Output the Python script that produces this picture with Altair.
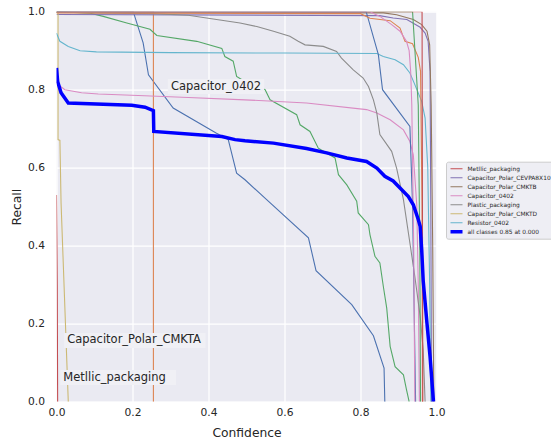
import altair as alt
import pandas as pd

# ---------------- data ----------------
# recall (y) versus confidence (x), one pair of lists per drawn curve
blue_a_x = [0.0, 0.202, 0.228, 0.242, 0.307, 0.42, 0.452, 0.474, 0.496, 0.553, 0.663, 0.683, 0.777, 0.834, 0.862, 0.864]
blue_a_y = [1.0, 1.0, 0.92, 0.838, 0.753, 0.689, 0.672, 0.586, 0.569, 0.518, 0.42, 0.336, 0.249, 0.169, 0.086, 0.0]

orange_a_x = [0.0, 0.255, 0.255]
orange_a_y = [1.0, 1.0, 0.0]

green_a_x = [0.0, 0.089, 0.123, 0.185, 0.246, 0.264, 0.369, 0.435, 0.443, 0.465, 0.474, 0.487, 0.549, 0.562,
             0.632, 0.641, 0.667, 0.689, 0.733, 0.742, 0.764, 0.79, 0.794, 0.821, 0.825, 0.838, 0.851, 0.86,
             0.869, 0.878, 0.891, 0.913, 0.921, 0.928]
green_a_y = [1.0, 0.996, 0.988, 0.971, 0.955, 0.939, 0.924, 0.906, 0.885, 0.873, 0.834, 0.826, 0.8, 0.774,
             0.736, 0.71, 0.693, 0.65, 0.625, 0.582, 0.556, 0.514, 0.484, 0.454, 0.428, 0.373, 0.356, 0.296,
             0.24, 0.142, 0.09, 0.069, 0.031, 0.0]

metllic_x = [0.0, 0.002, 0.003]
metllic_y = [0.53, 0.3, 0.0]

cevpa8x10_x = [0.0, 0.85, 0.886, 0.922, 0.957, 0.97, 0.978, 0.983, 0.985, 0.987]
cevpa8x10_y = [0.993, 0.99, 0.984, 0.98, 0.96, 0.945, 0.924, 0.847, 0.5, 0.0]

cmktb_x = [0.0, 0.86, 0.895, 0.939, 0.961, 0.975, 0.982, 0.986, 0.99, 0.993]
cmktb_y = [0.998, 0.997, 0.992, 0.98, 0.967, 0.95, 0.915, 0.76, 0.4, 0.0]

cap0402_x = [0.0, 0.005, 0.022, 0.066, 0.11, 0.215, 0.347, 0.496, 0.658, 0.816, 0.843, 0.878, 0.913, 0.93,
             0.939, 0.948, 0.952, 0.955]
cap0402_y = [0.82, 0.813, 0.8, 0.792, 0.789, 0.785, 0.78, 0.774, 0.766, 0.749, 0.74, 0.723, 0.697, 0.667,
             0.633, 0.505, 0.3, 0.0]

plastic_x = [0.0, 0.093, 0.255, 0.347, 0.408, 0.483, 0.527, 0.571, 0.614, 0.636, 0.654, 0.702, 0.737, 0.75,
             0.781, 0.807, 0.821, 0.834, 0.843, 0.851, 0.882, 0.895, 0.913, 0.93, 0.943, 0.957, 0.965, 0.97]
plastic_y = [1.0, 0.997, 0.995, 0.991, 0.982, 0.971, 0.962, 0.95, 0.937, 0.924, 0.915, 0.911, 0.898, 0.881,
             0.851, 0.83, 0.808, 0.774, 0.74, 0.685, 0.642, 0.599, 0.518, 0.407, 0.321, 0.219, 0.133, 0.0]

cmktd_x = [0.0, 0.004, 0.004, 0.009, 0.012, 0.031]
cmktd_y = [1.0, 1.0, 0.672, 0.67, 0.51, 0.0]

res0402_x = [0.0, 0.009, 0.031, 0.062, 0.105, 0.3, 0.6, 0.843, 0.86, 0.891, 0.913, 0.93, 0.943, 0.961, 0.97,
             0.977, 0.982, 0.985]
res0402_y = [0.945, 0.924, 0.911, 0.9, 0.897, 0.895, 0.894, 0.893, 0.885, 0.877, 0.864, 0.843, 0.813, 0.77,
             0.727, 0.6, 0.3, 0.0]

blue_b_x = [0.0, 0.815, 0.847, 0.858, 0.93, 0.937, 0.941, 0.945]
blue_b_y = [1.0, 1.0, 0.89, 0.8, 0.706, 0.505, 0.25, 0.0]

orange_b_x = [0.0, 0.8, 0.825, 0.878, 0.904, 0.917, 0.937, 0.952, 0.958, 0.962, 0.963]
orange_b_y = [0.997, 0.995, 0.983, 0.977, 0.958, 0.924, 0.918, 0.883, 0.847, 0.5, 0.0]

green_b_x = [0.0, 0.937, 0.952, 0.956, 0.958]
green_b_y = [1.0, 1.0, 0.76, 0.4, 0.0]

red_b_x = [0.0, 0.962, 0.964]
red_b_y = [1.0, 1.0, 0.0]

pink_b_x = [0.0, 0.825, 0.851, 0.882, 0.904, 0.921, 0.928, 0.932, 0.935, 0.94, 0.943]
pink_b_y = [1.0, 1.0, 0.988, 0.967, 0.95, 0.924, 0.9, 0.847, 0.76, 0.4, 0.0]

all_x = [0.0, 0.003, 0.012, 0.031, 0.198, 0.233, 0.255, 0.256, 0.435, 0.47, 0.496, 0.571, 0.658, 0.711,
         0.764, 0.816, 0.843, 0.864, 0.886, 0.904, 0.926, 0.939, 0.952, 0.957, 0.961, 0.965, 0.975, 0.983, 0.992]
all_y = [0.856, 0.821, 0.792, 0.766, 0.76, 0.755, 0.746, 0.693, 0.68, 0.672, 0.669, 0.663, 0.649, 0.638,
         0.625, 0.616, 0.599, 0.578, 0.566, 0.548, 0.526, 0.505, 0.467, 0.45, 0.39, 0.31, 0.2, 0.116, 0.0]

# annotations drawn on the plot
ann_labels = ["Capacitor_0402", "Capacitor_Polar_CMKTA", "Metllic_packaging"]
ann_x = [0.301, 0.028, 0.018]
ann_y = [0.808, 0.157, 0.062]

legend_names = ["Metllic_packaging", "Capacitor_Polar_CEVPA8X10", "Capacitor_Polar_CMKTB", "Capacitor_0402",
                "Plastic_packaging", "Capacitor_Polar_CMKTD", "Resistor_0402", "all classes 0.85 at 0.000"]

# ---------------- styles ----------------
DEEP = {"blue": "#4C72B0", "orange": "#DD8452", "green": "#55A868", "red": "#C44E52", "purple": "#8172B3",
        "brown": "#937860", "pink": "#DA8BC3", "gray": "#8C8C8C", "olive": "#CCB974", "cyan": "#64B5CD"}

series = [
    ("Capacitor_Polar_CMKTA", "blue", blue_a_x, blue_a_y),
    ("Capacitor_Polar_CEVPA6X5", "orange", orange_a_x, orange_a_y),
    ("Capacitor_Polar_CMKTC", "green", green_a_x, green_a_y),
    ("Metllic_packaging", "red", metllic_x, metllic_y),
    ("Capacitor_Polar_CEVPA8X10", "purple", cevpa8x10_x, cevpa8x10_y),
    ("Capacitor_Polar_CMKTB", "brown", cmktb_x, cmktb_y),
    ("Capacitor_0402", "pink", cap0402_x, cap0402_y),
    ("Plastic_packaging", "gray", plastic_x, plastic_y),
    ("Capacitor_Polar_CMKTD", "olive", cmktd_x, cmktd_y),
    ("Resistor_0402", "cyan", res0402_x, res0402_y),
    ("Resistor_0603", "blue", blue_b_x, blue_b_y),
    ("Capacitor_0603", "orange", orange_b_x, orange_b_y),
    ("Resistor_0805", "green", green_b_x, green_b_y),
    ("Capacitor_0805", "red", red_b_x, red_b_y),
    ("Resistor_1206", "pink", pink_b_x, pink_b_y),
]
ALL_NAME = "all classes 0.85 at 0.000"

rows = []
for name, _, xs, ys in series:
    for i, (xv, yv) in enumerate(zip(xs, ys)):
        rows.append({"name": name, "conf": xv, "recall": yv, "i": i})
df = pd.DataFrame(rows)
df_all = pd.DataFrame({"name": ALL_NAME, "conf": all_x, "recall": all_y, "i": list(range(len(all_x)))})
df_ann = pd.DataFrame({"label": ann_labels, "ax": ann_x, "ay": ann_y})

domain = [s[0] for s in series] + [ALL_NAME]
colors = [DEEP[s[1]] for s in series] + ["#0000FF"]
widths = [1.1] * len(series) + [3.5]

FONT = "DejaVu Sans"
TXT = "#262626"

xscale = alt.Scale(domain=[0, 1], nice=False, zero=False)
yscale = alt.Scale(domain=[0, 1], nice=False, zero=False)
ticks = [0, 0.2, 0.4, 0.6, 0.8, 1.0]

xaxis = alt.Axis(values=ticks, format=".1f", title="Confidence", domain=False, ticks=False,
                 gridColor="white", gridWidth=1.2, labelFlush=False, labelFont=FONT, labelFontSize=10.7,
                 labelColor=TXT, labelPadding=6, titleFont=FONT, titleFontSize=12.3, titleFontWeight="normal",
                 titleColor=TXT, titlePadding=9)
yaxis = alt.Axis(values=ticks, format=".1f", title="Recall", domain=False, ticks=False,
                 gridColor="white", gridWidth=1.2, labelFont=FONT, labelFontSize=10.7,
                 labelColor=TXT, labelPadding=12, titleFont=FONT, titleFontSize=12.3, titleFontWeight="normal",
                 titleColor=TXT, titlePadding=4)

legend = alt.Legend(title=None, values=legend_names, orient="none", legendX=389.5, legendY=150,
                    symbolType="stroke", symbolSize=144, clipHeight=9, rowPadding=0, labelOffset=3,
                    labelFont=FONT, labelFontSize=5.9, labelColor=TXT, padding=2.5,
                    fillColor="#EEEEF4", strokeColor="#CCCCCC", cornerRadius=2, labelLimit=200)

color = alt.Color("name:N", scale=alt.Scale(domain=domain, range=colors), legend=legend)
swidth = alt.StrokeWidth("name:N", scale=alt.Scale(type="ordinal", domain=domain, range=widths), legend=legend)

base = alt.Chart(df).mark_line(clip=True).encode(
    x=alt.X("conf:Q", scale=xscale, axis=xaxis),
    y=alt.Y("recall:Q", scale=yscale, axis=yaxis),
    color=color, strokeWidth=swidth, order=alt.Order("i:Q"),
)
allc = alt.Chart(df_all).mark_line(clip=True).encode(
    x=alt.X("conf:Q", scale=xscale, axis=xaxis),
    y=alt.Y("recall:Q", scale=yscale, axis=yaxis),
    color=color, strokeWidth=swidth, order=alt.Order("i:Q"),
)
boxes = alt.Chart(df_ann).transform_calculate(
    ax2="datum.ax + (length(datum.label) * 6.45 + 3) / 380"
).mark_rect(fill="#F0F0F5", xOffset=-3, yOffset=-7.5, y2Offset=7.5).encode(
    x=alt.X("ax:Q", scale=xscale), x2="ax2:Q", y=alt.Y("ay:Q", scale=yscale), y2="ay:Q"
)
texts = alt.Chart(df_ann).mark_text(align="left", baseline="middle", font=FONT, fontSize=11.5, color=TXT).encode(
    x=alt.X("ax:Q", scale=xscale), y=alt.Y("ay:Q", scale=yscale), text="label:N"
)

chart = alt.layer(base, boxes, texts, allc).properties(
    width=380, height=390,
    autosize=alt.AutoSizeParams(type="none"),
    padding={"left": 56.5, "top": 11.7, "right": 114.5, "bottom": 41.3},
    background="white",
).configure_view(fill="#EAEAF2", stroke=None)

chart.save("out.html", embed_options={"renderer": "svg", "actions": False})
